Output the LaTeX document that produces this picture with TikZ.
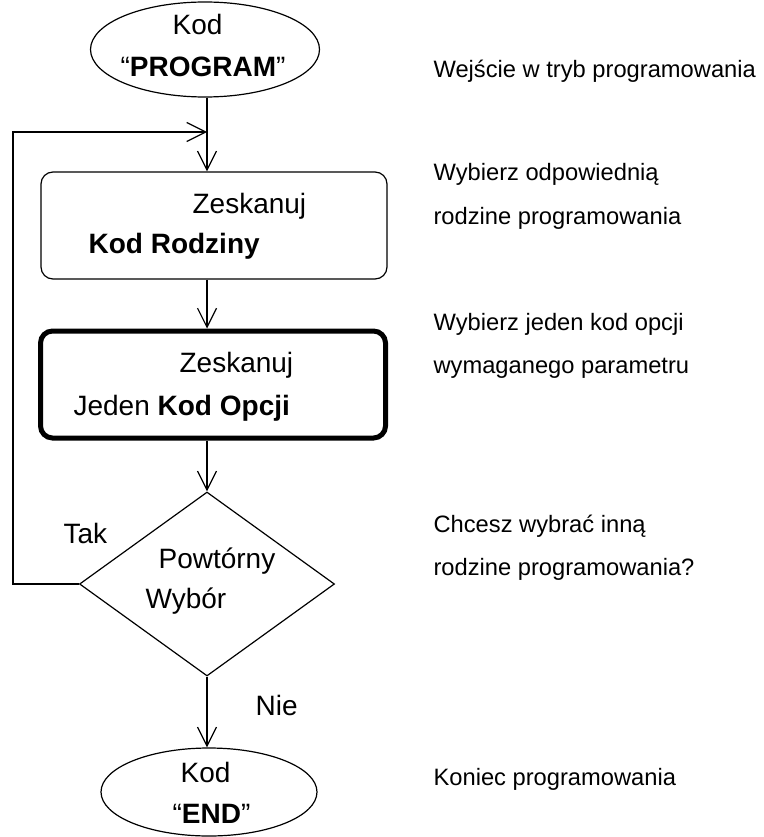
\documentclass[tikz,border=0pt]{standalone}
\usepackage{fontspec}
\setmainfont{Liberation Sans}
\usetikzlibrary{shapes.geometric,arrows.meta}
\begin{document}
\begin{tikzpicture}[x=1pt,y=-1pt,
  line width=1.2pt,
  arr/.style={-{Straight Barb[length=19pt,width=19pt,line width=1.2pt]}},
  txt/.style={anchor=base west,inner sep=0pt,font=\fontsize{28}{32}\selectfont},
  side/.style={anchor=base west,inner sep=0pt,font=\fontsize{23.7}{28}\selectfont},
  term/.style={draw,ellipse,inner sep=0pt},
  proc/.style={draw,rectangle,rounded corners=12pt,inner sep=0pt,minimum width=346pt,minimum height=107pt}]
\useasboundingbox (0,0) rectangle (763,837);
% shapes
\node[term,minimum width=229pt,minimum height=95pt] (start) at (205,49.5) {};
\node[proc] (box1) at (214,225.5) {};
\node[proc,line width=5pt,minimum width=345pt] (box2) at (213,384.5) {};
\node[draw,diamond,inner sep=0pt,minimum width=255pt,minimum height=184pt] (dec) at (207,584) {};
\node[term,minimum width=216pt,minimum height=88pt] (endn) at (209,792) {};
% helper coordinates
\coordinate (axis) at (207,0);
\coordinate (loopx) at (13,0);
\coordinate (join) at (207,132);
% connectors
\draw[arr] (axis |- start.south) -- (axis |- box1.north);
\draw[arr] (dec.west) -- (loopx |- dec.west) -- (loopx |- join) -- (join);
\draw[arr] (axis |- box1.south) -- (axis |- box2.north);
\draw[arr] (axis |- box2.south) -- (dec.north);
\draw[arr] (dec.south) -- (axis |- endn.north);
% texts in shapes
\node[txt] (t1) at (172,35) {Kod};
\node[txt] (t2) at (120,77) {“\textbf{PROGRAM}”};
\node[txt] (t3) at (192,213) {Zeskanuj};
\node[txt] (t4) at (88,253) {\textbf{Kod Rodziny}};
\node[txt] (t5) at (179,372) {Zeskanuj};
\node[txt] (t6) at (73,415) {Jeden \textbf{Kod Opcji}};
\node[txt] (t7) at (63,543) {Tak};
\node[txt] (t8) at (158,568) {Powtórny};
\node[txt] (t9) at (145,608) {Wybór};
\node[txt] (t10) at (255,715) {Nie};
\node[txt] (t11) at (180,782) {Kod};
\node[txt] (t12) at (172,823) {“\textbf{END}”};
% side texts
\node[side] (s1) at (433,78) {Wejście w tryb programowania};
\node[side] (s2) at (433,181) {Wybierz odpowiednią};
\node[side] (s3) at (433,224) {rodzine programowania};
\node[side] (s4) at (433,330) {Wybierz jeden kod opcji};
\node[side] (s5) at (433,373) {wymaganego parametru};
\node[side] (s6) at (433,532) {Chcesz wybrać inną};
\node[side] (s7) at (433,575) {rodzine programowania?};
\node[side] (s8) at (433,785) {Koniec programowania};
\end{tikzpicture}
\end{document}
